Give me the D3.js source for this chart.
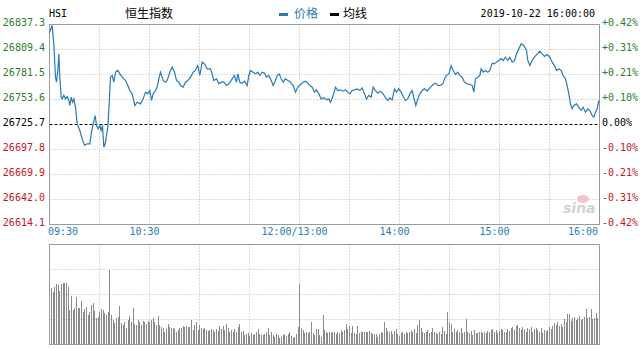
<!DOCTYPE html>
<html>
<head>
<meta charset="UTF-8">
<script src="https://d3js.org/d3.v7.min.js"></script>
<style>
	body { margin: 0; background: #fff; }
	svg text { font-family: "DejaVu Sans Mono", monospace; font-size: 10px; }
	svg text.cn { font-family: "Noto Sans CJK SC", sans-serif; font-size: 12px; }
</style>
</head>
<body>
<svg id="chart" width="640" height="349"></svg>
<script>
// trading minutes since 09:30 (lunch break removed) and index level
var priceMin = [0,1.6,2.6,3.6,4.2,5.0,5.6,6.2,7.0,7.6,8.6,9.6,10.6,11.6,12.2,13.0,13.8,14.6,15.6,16.6,
	18.2,19.6,21.0,22.6,24.2,25.0,26.2,27.4,28.2,29.2,30.2,31.0,31.8,32.6,33.4,34.2,35.0,35.8,36.6,37.6,
	38.6,39.6,41.0,42.2,43.6,45.6,47.0,48.2,49.6,51.2,52.6,54.6,56.2,57.6,59.0,60.2,61.2,62.2,63.6,64.6,
	65.6,66.6,68.2,69.6,70.6,72.2,73.6,75.0,76.2,77.6,78.6,80.2,81.6,83.0,84.6,86.2,87.6,89.0,90.2,91.6,
	93.0,94.6,96.6,97.6,98.6,100.2,101.6,103.0,104.6,106.2,107.6,109.6,111.0,112.2,113.0,114.2,115.6,117.0,118.6,119.6,
	120.6,122.2,123.6,125.0,126.2,127.6,129.0,130.2,131.6,133.0,134.2,135.6,136.6,137.8,139.0,140.2,141.6,143.0,144.6,146.2,
	147.6,149.0,150.6,152.2,153.6,155.0,156.2,157.6,159.0,160.2,161.6,163.0,164.6,166.2,167.6,168.6,170.2,171.6,173.0,174.6,
	176.2,177.6,179.0,180.2,181.6,183.0,184.6,186.2,187.6,189.0,190.2,191.6,193.0,194.2,195.6,197.0,198.6,200.2,201.6,203.0,
	204.2,205.6,207.0,208.2,209.6,211.0,212.2,213.6,215.0,216.2,217.6,218.6,219.8,221.0,222.2,223.6,225.0,226.6,228.2,230.2,
	231.6,233.0,234.6,236.2,237.0,238.2,239.6,241.0,242.2,243.6,245.0,246.2,247.6,249.0,250.6,252.2,253.6,254.6,255.6,257.0,
	258.2,259.0,260.2,261.6,263.0,264.2,265.6,267.0,268.2,269.6,271.0,272.2,273.6,275.0,276.2,277.6,279.0,280.2,281.6,283.0,
	284.6,286.2,287.0,288.2,289.6,291.0,292.6,294.2,295.6,297.0,298.6,300.2,301.6,303.0,304.2,305.6,307.0,308.2,309.6,310.6,
	311.6,312.6,313.6,314.6,316.2,317.6,319.0,320.2,321.6,323.0,324.2,325.6,326.6,327.6,328.6,329.6];
var priceVal = [26828.0,26836.2,26815.7,26778.5,26772.9,26785.9,26804.6,26778.5,26756.2,26754.3,26758.1,26754.3,26756.9,26752.5,26746.9,26756.2,26750.6,26754.3,26745.0,26726.4,
	26719.0,26709.7,26702.3,26704.1,26704.1,26715.3,26726.4,26735.7,26724.6,26720.9,26724.6,26719.0,26724.6,26700.4,26704.1,26713.4,26722.7,26748.7,26778.5,26780.4,
	26772.9,26784.1,26786.0,26782.2,26778.5,26774.8,26769.2,26763.6,26759.9,26746.9,26750.6,26748.7,26754.3,26761.8,26759.9,26763.6,26752.5,26759.9,26763.6,26767.4,
	26776.7,26784.1,26774.8,26772.9,26774.8,26784.1,26789.7,26784.1,26774.8,26772.9,26769.2,26767.4,26772.9,26774.8,26778.5,26784.1,26786.0,26791.5,26780.4,26795.3,
	26793.4,26787.8,26787.8,26782.2,26774.8,26776.7,26771.1,26772.9,26772.9,26769.2,26771.1,26776.7,26780.4,26772.9,26782.2,26772.9,26771.8,26774.1,26769.2,26780.4,
	26786.0,26784.1,26782.2,26784.1,26780.4,26784.1,26783.0,26778.5,26780.4,26774.8,26769.2,26774.8,26780.4,26782.2,26776.7,26772.9,26776.7,26774.8,26772.9,26769.2,
	26761.8,26767.4,26770.3,26772.9,26774.1,26771.8,26769.2,26767.4,26761.8,26764.4,26759.9,26754.3,26755.5,26753.2,26754.3,26750.6,26758.1,26767.4,26763.6,26764.4,
	26762.9,26764.4,26761.8,26759.9,26763.6,26764.4,26765.5,26763.6,26766.6,26759.9,26754.3,26758.1,26756.2,26767.4,26763.6,26760.7,26762.9,26759.9,26755.5,26752.5,
	26755.5,26753.2,26765.5,26761.8,26765.5,26761.8,26756.9,26752.5,26754.3,26759.9,26763.6,26755.5,26746.9,26754.3,26759.9,26763.6,26765.5,26762.9,26766.6,26770.3,
	26771.8,26769.2,26769.2,26771.8,26776.7,26780.4,26782.2,26791.5,26786.0,26781.5,26784.1,26780.4,26778.5,26772.9,26771.1,26770.3,26769.2,26761.8,26776.7,26778.5,
	26780.4,26787.8,26784.1,26786.0,26784.1,26786.0,26794.1,26793.4,26795.3,26797.1,26799.0,26797.1,26800.8,26797.1,26800.8,26795.3,26797.1,26804.6,26810.1,26815.7,
	26813.9,26808.3,26797.1,26791.5,26797.1,26800.8,26804.6,26807.5,26804.6,26801.6,26803.8,26800.8,26795.3,26791.5,26786.0,26787.8,26786.0,26780.4,26776.7,26769.2,
	26759.9,26748.7,26743.2,26746.9,26748.7,26745.0,26741.3,26745.0,26739.5,26743.2,26741.3,26735.7,26733.9,26739.5,26743.2,26752.5];

// minute volume, relative units (panel top = 100)
var volume = [56,52,57,60,59,53,60,61,61,61,57,34,48,34,36,47,36,36,43,32,
	35,37,29,32,39,41,33,26,27,32,35,34,31,29,32,74,29,24,21,26,
	27,38,21,19,22,16,24,28,22,36,20,19,24,22,19,23,22,20,23,22,
	24,26,22,19,28,19,17,16,12,15,20,17,16,16,15,12,14,16,16,18,
	17,18,17,17,24,14,19,22,14,19,16,15,16,14,13,14,15,14,12,15,
	13,18,15,18,14,20,16,12,14,12,15,12,17,20,12,13,9,10,11,8,
	11,9,10,12,15,10,9,9,10,12,16,9,12,9,7,10,9,6,7,9,
	10,8,10,12,8,6,7,10,17,60,16,14,11,12,11,12,22,11,9,15,
	15,9,7,29,14,12,11,12,11,12,12,10,12,11,
	14,12,14,20,15,18,11,18,11,10,18,11,12,12,12,12,12,13,11,10,
	10,10,7,10,12,11,22,16,13,12,13,10,13,15,10,8,11,12,10,12,
	11,12,13,12,15,11,19,24,16,12,11,12,14,11,12,16,12,11,10,12,
	10,17,13,10,32,22,20,12,15,12,14,12,16,11,12,25,12,11,13,9,
	14,11,11,12,12,11,12,11,13,12,14,15,12,14,11,13,15,14,12,12,
	15,13,16,17,14,18,19,16,14,17,15,12,16,15,17,12,15,16,14,12,
	16,11,14,13,14,17,15,18,21,19,22,18,20,17,25,22,30,30,23,26,
	27,24,26,28,24,25,27,35,26,27,35,25,26,31,26,42];

var prevClose = 26725.7;
var priceTicks = [26837.3,26809.4,26781.5,26753.6,26725.7,26697.8,26669.9,26642.0,26614.1];
var pctTicks = ["+0.42%","+0.31%","+0.21%","+0.10%","0.00%","-0.10%","-0.21%","-0.31%","-0.42%"];
var timeLabels = ["09:30","10:30","12:00/13:00","14:00","15:00","16:00"];
var timeMins = [0,60,150,210,270,330];

var svg = d3.select("#chart");
var green = "#2a7d2a", red = "#c8141e", blue = "#2a7ab4", grid = "#b4b4b4", border = "#9a9a9a";

var x = d3.scaleLinear().domain([0, 330]).range([49.5, 599.5]);
var y = d3.scaleLinear().domain([26614.1, 26837.3]).range([224.5, 24.5]);
var xv = d3.scaleLinear().domain([0, volume.length - 1]).range([51, 599]);
var yv = d3.scaleLinear().domain([0, 100]).range([344, 244]);

// header
svg.append("text").attr("x", 49).attr("y", 17).text("HSI");
svg.append("text").attr("class", "cn").attr("x", 125).attr("y", 18).text("恒生指数");
svg.append("rect").attr("x", 279).attr("y", 13).attr("width", 9).attr("height", 3).attr("fill", blue);
svg.append("text").attr("class", "cn").attr("x", 294).attr("y", 18).attr("fill", blue).text("价格");
svg.append("rect").attr("x", 330).attr("y", 13).attr("width", 9).attr("height", 3).attr("fill", "#000");
svg.append("text").attr("class", "cn").attr("x", 343).attr("y", 18).text("均线");
svg.append("text").attr("x", 595).attr("y", 17).attr("text-anchor", "end").text("2019-10-22 16:00:00");

// gridlines
var vMins = d3.range(30, 330, 30);
var price = svg.append("g");
price.selectAll(".vg").data(vMins).enter().append("line")
	.attr("x1", function(d){ return x(d); }).attr("x2", function(d){ return x(d); })
	.attr("y1", 24.5).attr("y2", 224.5)
	.attr("stroke", grid).attr("stroke-dasharray", "1,2");
price.selectAll(".hg").data(priceTicks.slice(1, -1)).enter().append("line")
	.attr("x1", 49.5).attr("x2", 599.5)
	.attr("y1", function(d){ return y(d); }).attr("y2", function(d){ return y(d); })
	.attr("stroke", function(d){ return d === prevClose ? "#000" : grid; })
	.attr("stroke-dasharray", function(d){ return d === prevClose ? "3,2" : "1,2"; });
price.append("rect").attr("x", 49.5).attr("y", 24.5).attr("width", 550).attr("height", 200)
	.attr("fill", "none").attr("stroke", border);

// watermark
svg.append("ellipse").attr("cx", 583).attr("cy", 199).attr("rx", 6).attr("ry", 4)
	.attr("fill", "#f2c4c8");
svg.append("text").attr("x", 563).attr("y", 213)
	.style("font-family", "'DejaVu Sans', sans-serif").style("font-size", "14px")
	.style("font-style", "italic").style("font-weight", "bold")
	.attr("fill", "#d2d2d2").text("sina");

// price line
var line = d3.line()
	.x(function(d, i){ return x(priceMin[i]); })
	.y(function(d){ return y(d); });
svg.append("path").datum(priceVal).attr("d", line)
	.attr("fill", "none").attr("stroke", blue).attr("stroke-width", 1.2);

// axis labels
svg.selectAll(".pl").data(priceTicks).enter().append("text")
	.attr("x", 45).attr("y", function(d){ return y(d) + 1; })
	.attr("text-anchor", "end")
	.attr("fill", function(d){ return d > prevClose ? green : (d < prevClose ? red : "#000"); })
	.text(function(d){ return d.toFixed(1); });
svg.selectAll(".pr").data(pctTicks).enter().append("text")
	.attr("x", 602).attr("y", function(d, i){ return y(priceTicks[i]) + 1; })
	.attr("fill", function(d){ return d[0] === "+" ? green : (d[0] === "-" ? red : "#000"); })
	.text(function(d){ return d; });
svg.selectAll(".tl").data(timeLabels).enter().append("text")
	.attr("x", function(d, i){ return i === 0 ? 48 : (i === timeLabels.length - 1 ? 598 : x(timeMins[i]) - 5); })
	.attr("y", 235)
	.attr("text-anchor", function(d, i){ return i === 0 ? "start" : (i === timeLabels.length - 1 ? "end" : "middle"); })
	.attr("fill", "#1f7db4")
	.text(function(d){ return d; });

// volume panel
var vol = svg.append("g");
vol.selectAll(".vg").data(vMins).enter().append("line")
	.attr("x1", function(d){ return x(d); }).attr("x2", function(d){ return x(d); })
	.attr("y1", 244.5).attr("y2", 344.5)
	.attr("stroke", grid).attr("stroke-dasharray", "1,2");
vol.selectAll(".hg").data([25, 50, 75]).enter().append("line")
	.attr("x1", 49.5).attr("x2", 599.5)
	.attr("y1", function(d){ return yv(d) + 0.5; }).attr("y2", function(d){ return yv(d) + 0.5; })
	.attr("stroke", grid).attr("stroke-dasharray", "1,2");
vol.selectAll(".bar").data(volume).enter().append("rect")
	.attr("x", function(d, i){ return Math.round(xv(i)); })
	.attr("y", function(d){ return yv(d); })
	.attr("width", 1)
	.attr("height", function(d){ return yv(0) - yv(d); })
	.attr("fill", "#8a8a8a");
vol.append("rect").attr("x", 49.5).attr("y", 244.5).attr("width", 550).attr("height", 100)
	.attr("fill", "none").attr("stroke", border);
</script>
</body>
</html>
